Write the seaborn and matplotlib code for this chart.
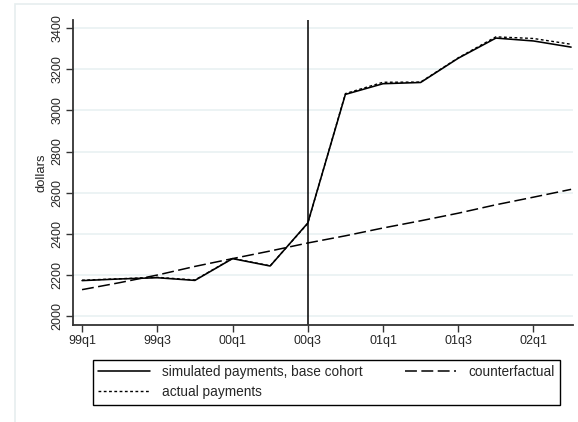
import numpy as np
import pandas as pd
import matplotlib.pyplot as plt
import seaborn as sns
from matplotlib.patches import Rectangle

# Quarterly values
quarters = ['99q1', '99q2', '99q3', '99q4', '00q1', '00q2', '00q3',
            '00q4', '01q1', '01q2', '01q3', '01q4', '02q1', '02q2']
simulated = [2172, 2180, 2186, 2173, 2279, 2243, 2452,
             3078, 3130, 3136, 3254, 3352, 3338, 3308]
counterfactual = [2128, 2162, 2199, 2241, 2279, 2316, 2355,
                  2390, 2428, 2463, 2500, 2541, 2578, 2616]
actual = [2174, 2181, 2188, 2175, 2280, 2244, 2450,
          3082, 3137, 3138, 3256, 3358, 3350, 3322]
y_ticks = [2000, 2200, 2400, 2600, 2800, 3000, 3200, 3400]
policy_quarter = '00q3'

sns.set_style('white')
plt.rcParams['font.family'] = ['Liberation Sans', 'DejaVu Sans']

df = pd.DataFrame({
    't': np.arange(len(quarters)),
    'simulated': simulated,
    'counterfactual': counterfactual,
    'actual': actual,
})

fig = plt.figure(figsize=(5.78, 4.22), dpi=100)

# light outer graph-region frame (cut off at right and bottom)
fig.patches.append(Rectangle((15 / 578, -0.1), 1.2, 1.1 - 4 / 422,
                             transform=fig.transFigure, fill=False,
                             edgecolor='#e6eeef', lw=1.2, zorder=0))

ax = fig.add_axes([73 / 578, 97 / 422, 500 / 578, 305 / 422])

sns.lineplot(data=df, x='t', y='simulated', ax=ax, color='black', lw=1.15,
             label='simulated payments, base cohort')
sns.lineplot(data=df, x='t', y='counterfactual', ax=ax, color='black', lw=1.1,
             dashes=False, label='counterfactual')
sns.lineplot(data=df, x='t', y='actual', ax=ax, color='black', lw=1.0,
             label='actual payments')
ax.lines[1].set_dashes((7.8, 2.9))
ax.lines[2].set_dashes((2.0, 1.8))

ax.axvline(quarters.index(policy_quarter), color='black', lw=1.1)

ax.set_xlim(-0.24, 13.05)
ax.set_ylim(1956, 3440)
ax.set_xticks(df['t'][::2])
ax.set_xticklabels(quarters[::2])
ax.set_yticks(y_ticks)
ax.set_xlabel('')
ax.set_ylabel('dollars', fontsize=9.4, labelpad=3)

ax.yaxis.grid(True, color='#eaf2f3', lw=1.3)
ax.xaxis.grid(False)
ax.set_axisbelow(True)

ax.tick_params(axis='both', direction='out', length=5, width=1.0,
               color='#333333', labelsize=9, bottom=True, left=True, pad=2)
ax.tick_params(axis='y', labelrotation=90)
for lab in ax.get_yticklabels():
    lab.set_va('center')

for side in ['top', 'right']:
    ax.spines[side].set_visible(False)
for side in ['left', 'bottom']:
    ax.spines[side].set_color('#333333')
    ax.spines[side].set_linewidth(1.3)

handles, labels = ax.get_legend_handles_labels()
ax.get_legend().remove()
order = [0, 2, 1]
leg = fig.legend([handles[i] for i in order], [labels[i] for i in order],
                 loc='center', ncol=2, mode='expand',
                 bbox_to_anchor=(86 / 578, 1 - 406.7 / 422, 481 / 578, 49 / 422),
                 frameon=True, fancybox=False, edgecolor='black',
                 handlelength=3.8, handletextpad=0.9, labelspacing=0.45,
                 borderpad=0.4, fontsize=9.8)
leg.get_frame().set_linewidth(1.0)
leg.get_frame().set_alpha(1)

fig.savefig('out.png', dpi=100)
